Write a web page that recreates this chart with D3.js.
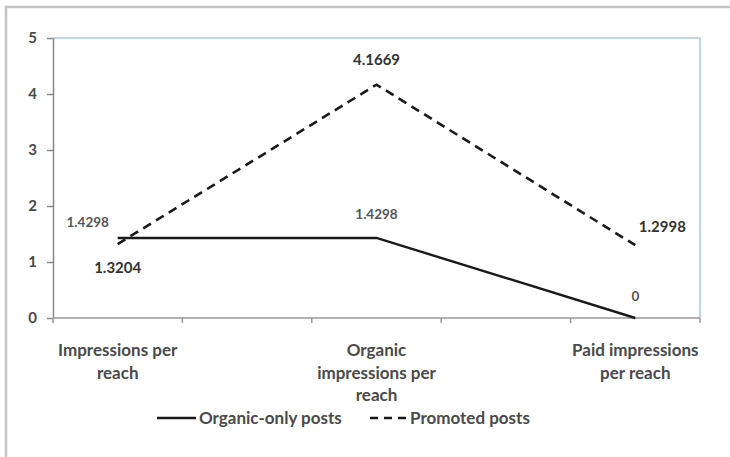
<!DOCTYPE html>
<html>
<head>
<meta charset="utf-8">
<script src="https://cdn.jsdelivr.net/npm/d3@7"></script>
<style>
  html, body { margin: 0; padding: 0; background: #fff; }
  svg { display: block; font-family: Lato, "Open Sans", sans-serif; }
</style>
</head>
<body>
<svg id="chart" width="730" height="457"></svg>
<script>
// Category labels (multi-line) and series values
const categories = ["Impressions per reach", "Organic impressions per reach", "Paid impressions per reach"];
const categoryLines = [
  ["Impressions per", "reach"],
  ["Organic", "impressions per", "reach"],
  ["Paid impressions", "per reach"]
];
const organicOnly = [1.4298, 1.4298, 0];
const promoted = [1.3204, 4.1669, 1.2998];
const organicLabels = ["1.4298", "1.4298", "0"];
const promotedLabels = ["1.3204", "4.1669", "1.2998"];
const yTicks = [0, 1, 2, 3, 4, 5];
const seriesNames = ["Organic-only posts", "Promoted posts"];

const svg = d3.select("#chart");
const plot = { left: 53, right: 700, top: 38, bottom: 318 };

// outer frame (left and top edges visible)
svg.append("path")
  .attr("d", "M6,457 V7 H730")
  .attr("fill", "none")
  .attr("stroke", "#c4c4c4")
  .attr("stroke-width", 2.5);

const x = d3.scalePoint()
  .domain(categories)
  .range([plot.left, plot.right])
  .padding(0.25);

const y = d3.scaleLinear()
  .domain([0, 5])
  .range([plot.bottom, plot.top]);

// plot-area border (top and right, light blue)
svg.append("path")
  .attr("d", `M${plot.left},${plot.top} H${plot.right} V${plot.bottom}`)
  .attr("fill", "none")
  .attr("stroke", "#a9c9e0")
  .attr("stroke-width", 1.5);

// y axis
const yAxis = svg.append("g")
  .attr("transform", `translate(${plot.left},0)`)
  .call(d3.axisLeft(y).tickValues(yTicks).tickSize(6).tickSizeOuter(0).tickPadding(10).tickFormat(d3.format("d")));
yAxis.select(".domain").attr("stroke", "#888").attr("stroke-width", 1.5);
yAxis.selectAll(".tick line").attr("stroke", "#888").attr("stroke-width", 1.5);
yAxis.selectAll(".tick text")
  .attr("fill", "#4a4a4a").attr("font-size", 15).attr("font-weight", "bold")
  .attr("font-family", "Lato, 'Open Sans', sans-serif");

// x axis baseline with boundary ticks between half-step slots
const half = x.step() / 2;
const boundaries = d3.range(6).map(i => plot.left + i * half);
const xg = svg.append("g");
xg.append("line")
  .attr("x1", plot.left).attr("x2", plot.right)
  .attr("y1", plot.bottom).attr("y2", plot.bottom)
  .attr("stroke", "#999").attr("stroke-width", 1.5);
xg.selectAll("line.tick").data(boundaries).join("line")
  .attr("class", "tick")
  .attr("x1", d => d).attr("x2", d => d)
  .attr("y1", plot.bottom).attr("y2", plot.bottom + 5)
  .attr("stroke", "#999").attr("stroke-width", 1.5);

// category labels
categories.forEach((c, i) => {
  const t = svg.append("text")
    .attr("x", x(c))
    .attr("y", 356)
    .attr("text-anchor", "middle")
    .attr("fill", "#4a4a4a")
    .attr("font-size", 17)
    .attr("font-weight", "bold");
  categoryLines[i].forEach((ln, j) => {
    t.append("tspan").attr("x", x(c)).attr("dy", j === 0 ? 0 : 22.5).text(ln);
  });
});

const line = d3.line()
  .x((d, i) => x(categories[i]))
  .y(d => y(d));

svg.append("path")
  .datum(organicOnly)
  .attr("d", line)
  .attr("fill", "none")
  .attr("stroke", "#1a1a1a")
  .attr("stroke-width", 2.4);

svg.append("path")
  .datum(promoted)
  .attr("d", line)
  .attr("fill", "none")
  .attr("stroke", "#1a1a1a")
  .attr("stroke-width", 2.6)
  .attr("stroke-dasharray", "9,6");

// data labels
const orgOffsets = [[-30, -11], [0, -19], [0, -17]];
organicOnly.forEach((v, i) => {
  svg.append("text")
    .attr("x", x(categories[i]) + orgOffsets[i][0])
    .attr("y", y(v) + orgOffsets[i][1])
    .attr("text-anchor", "middle")
    .attr("fill", "#555")
    .attr("font-size", 13.5)
    .attr("font-weight", "bold")
    .text(organicLabels[i]);
});
const proOffsets = [[0, 29], [0, -20], [27, -13]];
promoted.forEach((v, i) => {
  svg.append("text")
    .attr("x", x(categories[i]) + proOffsets[i][0])
    .attr("y", y(v) + proOffsets[i][1])
    .attr("text-anchor", "middle")
    .attr("fill", "#333")
    .attr("font-size", 15)
    .attr("font-weight", "bold")
    .text(promotedLabels[i]);
});

// legend
const legendY = 418;
const lg = svg.append("g").attr("font-size", 17).attr("font-weight", "bold").attr("fill", "#4a4a4a");
lg.append("line").attr("x1", 157).attr("x2", 196).attr("y1", legendY).attr("y2", legendY)
  .attr("stroke", "#1a1a1a").attr("stroke-width", 2.4);
lg.append("text").attr("x", 199).attr("y", legendY + 6).text(seriesNames[0]);
lg.append("line").attr("x1", 370).attr("x2", 407).attr("y1", legendY).attr("y2", legendY)
  .attr("stroke", "#1a1a1a").attr("stroke-width", 2.6).attr("stroke-dasharray", "8,6");
lg.append("text").attr("x", 410).attr("y", legendY + 6).text(seriesNames[1]);
</script>
</body>
</html>
